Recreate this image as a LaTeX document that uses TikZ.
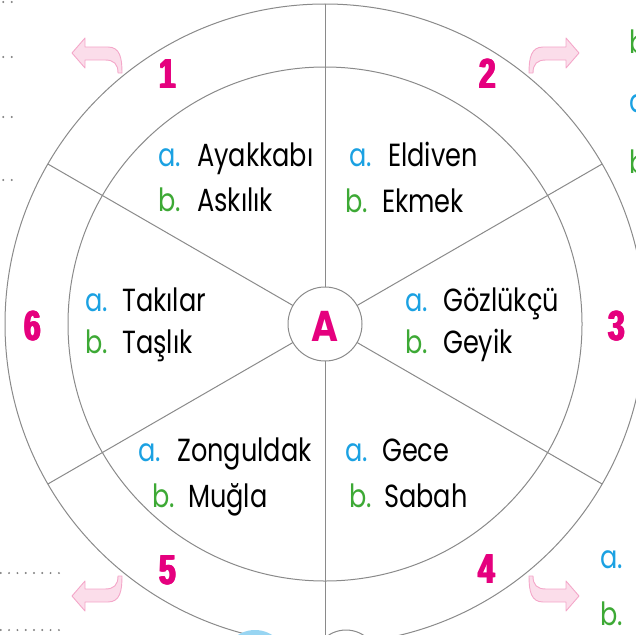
\documentclass[tikz,border=0pt]{standalone}
\usepackage{fontspec}
\setmainfont{Poppins}
\newfontfamily\numfont{Liberation Sans Bold}
\definecolor{lineg}{HTML}{8A8A8A}
\definecolor{mag}{HTML}{E5007E}
\definecolor{labblue}{HTML}{1BA1E2}
\definecolor{labgreen}{HTML}{3DA935}
\definecolor{arrfill}{HTML}{FBDDEA}
\definecolor{arrdraw}{HTML}{F4A7C9}
\definecolor{dotg}{HTML}{808080}
\newcommand\hsq[1]{\scalebox{0.8}[1]{#1}}
\newcommand\nsq[1]{\scalebox{0.7}[1]{\rlap{\kern-1.2pt#1}\rlap{\kern1.2pt#1}\rlap{\kern-0.6pt#1}\rlap{\kern0.6pt#1}#1}}
\tikzset{
  gline/.style={draw=lineg, line width=1pt},
  txt/.style={anchor=base west, inner sep=0pt, font=\fontsize{32}{32}\selectfont},
  alab/.style={txt, text=labblue},
  blab/.style={txt, text=labgreen},
  num/.style={inner sep=0pt, text=mag, font=\numfont\fontsize{42}{42}\selectfont},
  parrow/.style={fill=arrfill, draw=arrdraw, line width=0.9pt, line join=round},
  dotline/.style={fill=dotg}
}
\begin{document}
\begin{tikzpicture}[x=1pt,y=-1pt]
\useasboundingbox (0,0) rectangle (636,634);
\clip (0,0) rectangle (636,634);
% circles
\coordinate (c) at (325,324);
\draw[gline] (c) circle[radius=320];
\draw[gline] (c) circle[radius=257];
\node[circle, draw=lineg, line width=1pt, minimum size=74pt, inner sep=0pt] (A) at (c) {};
\begin{scope}[shift={(325,324)}]
  \foreach \a in {30,90,150,210,270,330}
    \draw[gline] (\a:37) -- (\a:320);
\end{scope}
\node[inner sep=0pt, text=mag, font=\bfseries\fontsize{43}{43}\selectfont] (Alab) at (325,326) {\scalebox{0.85}[1]{A}};
% numbers
\node[num] (n1) at (168,74) {\nsq{1}};
\node[num] (n2) at (488,74) {\nsq{2}};
\node[num] (n3) at (617,326) {\nsq{3}};
\node[num] (n4) at (487,569) {\nsq{4}};
\node[num] (n5) at (168,570) {\nsq{5}};
\node[num] (n6) at (33,326) {\nsq{6}};
% block 1
\node[alab] (a1) at (158,166) {\hsq{a.}};
\node[txt] (w1a) at (197,166) {\hsq{Ayakkabı}};
\node[blab] (b1) at (158,211) {\hsq{b.}};
\node[txt] (w1b) at (197,211) {\hsq{Askılık}};
% block 2
\node[alab] (a2) at (349,166) {\hsq{a.}};
\node[txt] (w2a) at (388,166) {\hsq{Eldiven}};
\node[blab] (b2) at (345,212) {\hsq{b.}};
\node[txt] (w2b) at (382,212) {\hsq{Ekmek}};
% block 6
\node[alab] (a6) at (85,311) {\hsq{a.}};
\node[txt] (w6a) at (122,311) {\hsq{Takılar}};
\node[blab] (b6) at (85,353) {\hsq{b.}};
\node[txt] (w6b) at (122,353) {\hsq{Taşlık}};
% block 3
\node[alab] (a3) at (405,311) {\hsq{a.}};
\node[txt] (w3a) at (443,311) {\hsq{Gözlükçü}};
\node[blab] (b3) at (405,353) {\hsq{b.}};
\node[txt] (w3b) at (443,353) {\hsq{Geyik}};
% block 5
\node[alab] (a5) at (138,461) {\hsq{a.}};
\node[txt] (w5a) at (177,461) {\hsq{Zonguldak}};
\node[blab] (b5) at (152,507) {\hsq{b.}};
\node[txt] (w5b) at (188,507) {\hsq{Muğla}};
% block 4
\node[alab] (a4) at (345,461) {\hsq{a.}};
\node[txt] (w4a) at (382,461) {\hsq{Gece}};
\node[blab] (b4) at (349,507) {\hsq{b.}};
\node[txt] (w4b) at (384,507) {\hsq{Sabah}};
% partial texts at right edge (cut off in the reference too)
\node[blab] (rb1) at (629,53) {\hsq{b}};
\node[alab] (ra1) at (629,112) {\hsq{a}};
\node[blab] (rb2) at (629,173) {\hsq{b}};
\node[alab] (ra2) at (600,568) {\hsq{a.}};
\node[blab] (rb3) at (600,625) {\hsq{b.}};
% pink arrows
\draw[parrow] (72,53) -- (85,38) -- (85,47) -- (108,47) .. controls (120,47) and (122,58) .. (122,73)
  -- (118,73) .. controls (118,64) and (114,60) .. (105,60) -- (85,60) -- (85,68) -- cycle;
\draw[parrow] (579,53) -- (566,38) -- (566,47) -- (543,47) .. controls (531,47) and (529,58) .. (529,73)
  -- (533,73) .. controls (533,64) and (537,60) .. (546,60) -- (566,60) -- (566,68) -- cycle;
\draw[parrow] (72,596) -- (85,611) -- (85,602) -- (108,602) .. controls (120,602) and (122,591) .. (122,576)
  -- (118,576) .. controls (118,585) and (114,589) .. (105,589) -- (85,589) -- (85,581) -- cycle;
\draw[parrow] (579,596) -- (566,611) -- (566,602) -- (543,602) .. controls (531,602) and (529,591) .. (529,576)
  -- (533,576) .. controls (533,585) and (537,589) .. (546,589) -- (566,589) -- (566,581) -- cycle;
% dotted line ends
\foreach \yy in {2,57,117,180}
  \foreach \xx in {3.3,11.7}
    \fill[dotline] (\xx,\yy) circle[radius=1.1];
\foreach \yy in {573,630}
  \foreach \i in {0,...,7}
    \fill[dotline] (0.8+8.3*\i,\yy) circle[radius=1.1];
% partial shapes at bottom edge
\fill[labblue!45] (255,662) circle[radius=32];
\draw[gline] (346,662) circle[radius=32];
\end{tikzpicture}
\end{document}
